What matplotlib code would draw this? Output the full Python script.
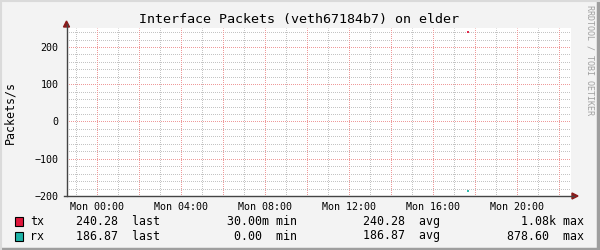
import matplotlib
matplotlib.use("Agg")
import matplotlib.pyplot as plt
from matplotlib.lines import Line2D
from matplotlib.patches import Polygon, Rectangle

# data (hours since Mon 00:00)
times = [17.62, 17.72]
tx = [240.28, 240.28]
rx = [186.87, 186.87]  # drawn mirrored below zero

tick_hours = [0, 4, 8, 12, 16, 20]
tick_labels = ["Mon 00:00", "Mon 04:00", "Mon 08:00", "Mon 12:00", "Mon 16:00", "Mon 20:00"]
y_ticks = [-200, -100, 0, 100, 200]

legend_names = ["tx", "rx"]
legend_colors = ["#E0173C", "#1EB4A8"]
legend_last = ["240.28", "186.87"]
legend_min = ["30.00m min", " 0.00  min"]
legend_avg = ["240.28", "186.87"]
legend_max = ["  1.08k max", "878.60  max"]

W, H = 600, 250
mono = "DejaVu Sans Mono"
plt.rcParams['font.family'] = mono
plt.rcParams['lines.scale_dashes'] = False

fig = plt.figure(figsize=(6, 2.5), dpi=100, facecolor="#F3F3F3")

def px(x, y):
    return x / W, 1 - y / H

L, R, T, B = 67, 571, 28, 196
ax = fig.add_axes([L / W, 1 - B / H, (R - L) / W, (B - T) / H])
ax.set_facecolor("white")

ax.set_xlim(-1.43, 22.57)
ax.set_ylim(-200, 251)

# grid: minor every hour / 20, major every 2 hours / 100
minor_c = "#C4C4C4"
major_c = "#EE9A9A"
dots = (0.36, (0.72, 0.72))
for h in range(-1, 23):
    if h % 2 != 0:
        ax.axvline(h, color=minor_c, lw=0.72, ls=dots, snap=True, zorder=1)
for v in range(-180, 251, 20):
    if v % 100 != 0:
        ax.axhline(v, color=minor_c, lw=0.72, ls=dots, snap=True, zorder=1)
for h in range(0, 23, 2):
    ax.axvline(h, color=major_c, lw=0.72, ls=dots, snap=True, zorder=2)
for v in [-100, 0, 100, 200]:
    ax.axhline(v, color=major_c, lw=0.72, ls=dots, snap=True, zorder=2)

# data
ax.plot(times, tx, color=legend_colors[0], lw=1.3, solid_capstyle="butt", zorder=3)
ax.plot(times, [-v for v in rx], color=legend_colors[1], lw=1.3, solid_capstyle="butt", zorder=3)

for s in ax.spines.values():
    s.set_visible(False)

ax.set_xticks(tick_hours)
ax.set_xticklabels(tick_labels)
ax.set_yticks(y_ticks)
ax.tick_params(axis="both", length=0, labelsize=7.2, colors="black")
ax.tick_params(axis="x", pad=4)
ax.tick_params(axis="y", pad=6)

# axis lines with arrows
ax_c = "#444444"
arr_c = "#8B1A1A"
x0, y0 = px(L - 0.5, B)
x1, y1 = px(L - 0.5, 24)
fig.add_artist(Line2D([x0, x1], [y0, y1], color=ax_c, lw=1.0))
x0, y0 = px(L - 3, B)
x1, y1 = px(574, B)
fig.add_artist(Line2D([x0, x1], [y0, y1], color=ax_c, lw=1.0))
fig.add_artist(Polygon([px(L - 3.5, 27), px(L + 2.5, 27), px(L - 0.5, 21)], closed=True,
                       color=arr_c, transform=fig.transFigure))
fig.add_artist(Polygon([px(572, B - 3), px(572, B + 3), px(578, B)], closed=True,
                       color=arr_c, transform=fig.transFigure))

# title, axis label, watermark
fig.text(*px(299, 19), "Interface Packets (veth67184b7) on elder", ha="center", va="center",
         fontsize=9.6, family=mono)
fig.text(*px(10, 112), "Packets/s", rotation=90, ha="center", va="center", fontsize=8.4, family=mono)
fig.text(*px(590, 60), "RRDTOOL / TOBI OETIKER", rotation=270, ha="center", va="center",
         fontsize=6, color="#A0A0A0", family=mono)

# legend
rows_y = [221.5, 236]
for i in range(2):
    y = rows_y[i]
    bx, by = px(15, y + 4.5)
    fig.add_artist(Rectangle((bx, by), 8 / W, 9 / H, facecolor=legend_colors[i], edgecolor="black",
                             lw=0.8, transform=fig.transFigure))
    fig.text(*px(30, y), legend_names[i], va="center", fontsize=8.4, family=mono)
    fig.text(*px(76, y), legend_last[i] + "  last", va="center", fontsize=8.4, family=mono)
    fig.text(*px(227, y), legend_min[i], va="center", fontsize=8.4, family=mono)
    fig.text(*px(363, y), legend_avg[i] + "  avg", va="center", fontsize=8.4, family=mono)
    fig.text(*px(507, y), legend_max[i], va="center", fontsize=8.4, family=mono)

# border
fig.add_artist(Line2D([0, 1], [0.004, 0.004], color="#9E9E9E", lw=2.5))
fig.add_artist(Line2D([0.9965, 0.9965], [0, 1], color="#9E9E9E", lw=2.5))
fig.add_artist(Line2D([0.0015, 0.0015], [0, 1], color="#DADADA", lw=1.5))
fig.add_artist(Line2D([0, 1], [0.997, 0.997], color="#DADADA", lw=1.5))

fig.savefig("out.png", dpi=100, facecolor=fig.get_facecolor())
